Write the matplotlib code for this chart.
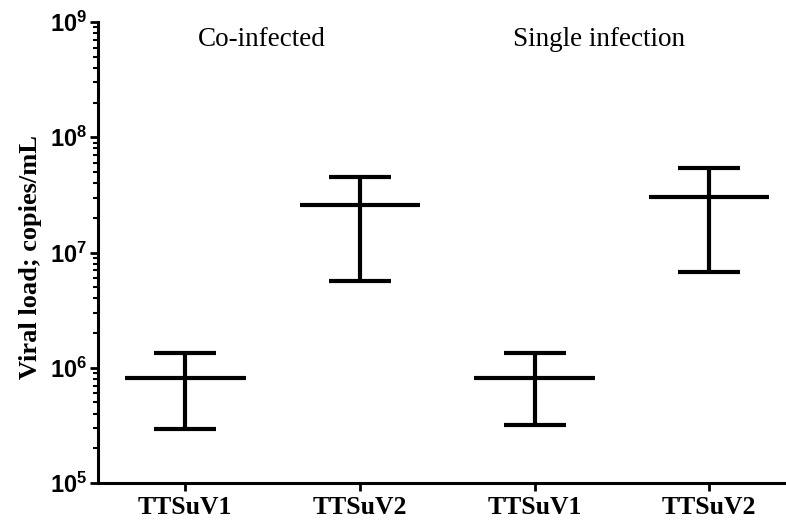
import matplotlib
matplotlib.use("Agg")
import matplotlib.pyplot as plt
import numpy as np
from matplotlib.ticker import LogLocator, FixedLocator, NullFormatter

plt.rcParams['mathtext.fontset'] = 'custom'
plt.rcParams['mathtext.rm'] = 'Liberation Sans:bold'
plt.rcParams['mathtext.bf'] = 'Liberation Sans:bold'

categories = ["TTSuV1", "TTSuV2", "TTSuV1", "TTSuV2"]
means = [8.15e5, 2.58e7, 8.15e5, 3.05e7]
upper = [1.34e6, 4.52e7, 1.33e6, 5.38e7]
lower = [2.94e5, 5.66e6, 3.19e5, 6.81e6]
group_labels = ["Co-infected", "Single infection"]
yticks = [1e5, 1e6, 1e7, 1e8, 1e9]
ytick_labels = [r"$\mathbf{10^{5}}$", r"$\mathbf{10^{6}}$", r"$\mathbf{10^{7}}$",
                r"$\mathbf{10^{8}}$", r"$\mathbf{10^{9}}$"]

fig = plt.figure(figsize=(7.86, 5.25), dpi=100)
ax = fig.add_axes([98/786, 42/525, 1 - 98/786, 461/525])

x = np.arange(len(categories))
m = np.array(means)
lo = np.array(lower)
hi = np.array(upper)

# error bars (range)
ax.errorbar(x, m, yerr=[m - lo, hi - m], fmt='none', ecolor='black',
            elinewidth=3, capsize=22, capthick=3)
# mean lines
ax.errorbar(x, m, xerr=0.345, fmt='none', ecolor='black', elinewidth=3, capsize=0)

ax.set_yscale('log')
ax.set_ylim(1e5, 1e9)
ax.set_xlim(-0.5, 3.44)

ax.yaxis.set_major_locator(FixedLocator(yticks))
ax.set_yticklabels(ytick_labels, fontsize=17)
ax.yaxis.set_minor_locator(LogLocator(base=10, subs=np.arange(2, 10)))
ax.yaxis.set_minor_formatter(NullFormatter())

ax.set_xticks(x)
ax.set_xticklabels(categories, fontsize=18.5, fontweight='bold', family='Liberation Serif')

ax.set_ylabel("Viral load; copies/mL", fontsize=19, fontweight='bold',
              family='Liberation Serif')
ax.yaxis.set_label_coords(-0.082, 0.49)

for s in ['top', 'right']:
    ax.spines[s].set_visible(False)
for s in ['left', 'bottom']:
    ax.spines[s].set_linewidth(2.2)

ax.tick_params(axis='y', which='major', direction='out', length=6, width=2, pad=2)
ax.tick_params(axis='y', which='minor', direction='out', length=3.5, width=1.5)
ax.tick_params(axis='x', which='major', direction='out', length=6, width=2, pad=3)

ax.text(0.44, 7.0e8, group_labels[0], ha='center', va='center', fontsize=19.5,
        family='Liberation Serif')
ax.text(2.37, 7.0e8, group_labels[1], ha='center', va='center', fontsize=19.5,
        family='Liberation Serif')

fig.savefig("out.png", dpi=100)
